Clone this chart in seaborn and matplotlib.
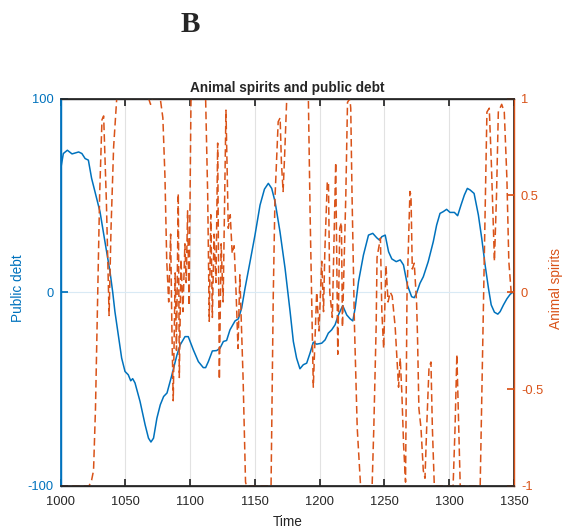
import numpy as np
import pandas as pd
import matplotlib
matplotlib.use("Agg")
import matplotlib.pyplot as plt
import seaborn as sns

# Public debt (left axis)
debt_t = [1000, 1002.2, 1005.3, 1008.9, 1014, 1016.5, 1019, 1021.5, 1024, 1026.6, 1030.5, 1034.3,
          1038.2, 1040.3, 1042, 1044.6, 1047.2, 1049.8, 1052.3, 1054.2, 1055.7, 1057.5, 1061.4,
          1065.3, 1067.9, 1069.8, 1071.8, 1074.4, 1077, 1079.6, 1082.2, 1086, 1089.9, 1092.5,
          1096.1, 1098.6, 1102.5, 1106.4, 1110.2, 1112, 1114.1, 1117.2, 1120.5, 1123.1, 1125.7,
          1128.2, 1130.8, 1134.7, 1137.3, 1139.8, 1142.4, 1146.3, 1150.1, 1154, 1157.4, 1160.4,
          1163, 1165.6, 1169.4, 1173.3, 1177.2, 1179.7, 1182.2, 1184.8, 1187.4, 1190, 1192.6,
          1195.1, 1197.7, 1201.6, 1204.2, 1206.7, 1209.3, 1211.9, 1214.5, 1217.8, 1220.9, 1223.5,
          1225.6, 1227.4, 1230, 1233.8, 1237.7, 1241, 1244.1, 1246.2, 1248, 1250.6, 1253.2,
          1255.7, 1259.1, 1262.2, 1264.7, 1267.8, 1271, 1273, 1274.8, 1277.4, 1280, 1283.8,
          1287.7, 1290.3, 1292.9, 1295.4, 1298, 1300.6, 1304, 1306.5, 1309.1, 1311.7, 1314,
          1316.1, 1319.2, 1322.5, 1325.1, 1327.7, 1330.3, 1332.4, 1334.9, 1337.5, 1339.3,
          1341.9, 1344.5, 1347.1, 1349.7]
debt_v = [63, 71.6, 73.3, 71.4, 72.4, 71.6, 69, 68.2, 58.8, 51.9, 41.5, 26.1,
          10.6, 0, -10, -22, -34, -40.9, -42.6, -45.7, -44.6, -46.8, -56.4,
          -68.4, -75.3, -77.3, -75.3, -65, -58.1, -53.8, -52, -42.6, -32.3, -27,
          -22.9, -22.9, -29.7, -35.8, -38.9, -38.9, -35.8, -30.3, -30.1, -28.9, -25.4,
          -24.9, -19.4, -14.8, -13.7, -8.2, 2, 15.8, 29.5, 45, 53.2, 56.2,
          53.6, 46.7, 31.2, 12.4, -10, -25.4, -34, -39.5, -37.4, -36.6, -31.4,
          -25.8, -26.8, -26.3, -24.6, -21.1, -19.4, -16.8, -11.7, -6.9, -11.7, -13.7,
          -14.8, -8.2, 5.5, 19.2, 29.5, 30.4, 28.1, 26.9, 28.7, 29.5, 20.9,
          17.2, 15.8, 16.7, 14.1, 3.5, -2.3, -2.8, -0.5, 4.6, 8, 15.8,
          26.1, 34.7, 40.7, 41.6, 42.8, 41.2, 41.2, 39.5, 45, 50.2, 53.6,
          52.8, 51, 39.9, 27.8, 14.1, 2, -6.5, -10.3, -11.3, -10,
          -6.5, -3.4, -1, 0.3]

# Animal spirits (right axis)
spirit_t = [1000, 1022, 1024, 1025.5, 1027, 1028.2, 1030.2, 1032, 1033.3, 1035.4, 1037.5, 1039,
            1041, 1043.4, 1068, 1069.5, 1071, 1077, 1079, 1080.6, 1082, 1083.5, 1085, 1086,
            1087, 1088.5, 1089.5, 1090.9, 1091.7, 1093, 1094.5, 1096, 1097, 1098.1, 1099.2,
            1100.7, 1101.5, 1112, 1113.6, 1114.8, 1116, 1117.2, 1118.5, 1120, 1121.3, 1122.6,
            1124, 1125.5, 1127.7, 1129.5, 1131, 1132.5, 1134, 1135.5, 1137, 1138.4, 1140.9,
            1142.8, 1143.6, 1162.5, 1164.2, 1165.5, 1168, 1169.5, 1170.5, 1171.8, 1173, 1174.5,
            1176, 1191.3, 1192.6, 1193.8, 1195.1, 1197.7, 1199.5, 1201.6, 1203, 1204, 1205.9,
            1206.8, 1207.8, 1209.8, 1212.4, 1214, 1215.5, 1216.8, 1217.6, 1220.2, 1221.5,
            1223.3, 1224, 1225, 1226.9, 1229, 1231.5, 1232.5, 1240.5, 1241.8, 1243.6, 1244.3,
            1246.9, 1248, 1249.4, 1251.2, 1252.8, 1254.5, 1256, 1258.3, 1260.9, 1262.2, 1263.5,
            1264.8, 1266.3, 1267.4, 1269.7, 1270.5, 1271.5, 1273, 1274.8, 1275.5, 1276.6,
            1278.2, 1280, 1281.3, 1282.6, 1284.4, 1285.9, 1287, 1288.5, 1303, 1304.5, 1305.9,
            1307, 1308.5, 1323.9, 1326.5, 1329.1, 1330.9, 1332.5, 1334.9, 1336.5, 1337.9,
            1340.5, 1342.5, 1344.5, 1346, 1347.8, 1349.6]
spirit_v = [-1, -1, -0.97, -0.92, -0.6, -0.19, 0.5, 0.89, 0.91, 0.47, -0.12, 0.33,
            0.75, 1.0, 1.0, 0.97, 1.0, 1.0, 0.9, 0.6, 0.16, -0.05, 0.3, -0.2,
            -0.56, 0.1, -0.3, 0.51, -0.44, 0.17, -0.1, 0.25, 0.05, 0.42, -0.07,
            0.99, 1.0, 1.0, 0.5, -0.15, 0.4, -0.13, 0.3, 0.05, 0.77, -0.45,
            0.25, -0.05, 0.94, 0.33, 0.4, 0.2, 0.24, 0.0, -0.29, 0.09, -0.44,
            -0.98, -1, -1, -0.02, 0.48, 0.88, 0.9, 0.67, 0.52, 0.71, 0.98,
            1.0, 1.0, 0.42, -0.01, -0.49, 0.0, -0.2, 0.16, -0.1, 0.21, 0.57,
            0.57, 0.0, -0.13, 0.67, -0.32, 0.33, 0.36, -0.18, 0.5, 0.98,
            1.0, 0.95, 0.5, -0.18, -0.7, -0.99, -1, -1, -0.7, -0.18, 0.18,
            0.28, -0.1, -0.29, 0.14, -0.05, 0.0, -0.02, -0.18, -0.49, -0.34, -0.53,
            -0.79, -0.98, -0.02, 0.52, 0.5, 0.12, 0.15, -0.05, -0.22, -0.6,
            -0.7, -0.92, -0.96, -0.7, -0.39, -0.36, -0.7, -1, -1, -0.7, -0.32,
            -0.6, -1, -1, -0.02, 0.93, 0.95, 0.67, 0.16, 0.5, 0.93,
            0.97, 0.93, 0.59, 0.16, 0.0, -0.01]

x_ticks = [1000, 1050, 1100, 1150, 1200, 1250, 1300, 1350]
left_ticks = [-100, 0, 100]
right_ticks = [-1, -0.5, 0, 0.5, 1]
right_labels = ["-1", "-0.5", "0", "0.5", "1"]

BLUE = "#0072BD"
ORANGE = "#D95319"

sns.set_theme(style="white")
plt.rcParams["font.family"] = ["Liberation Sans", "DejaVu Sans"]
plt.rcParams["axes.unicode_minus"] = False

fig = plt.figure(figsize=(5.64, 5.32), dpi=100)
ax_w = 514 - 60.5
ax_h = 486 - 98.5
ax = fig.add_axes([60.5 / 564, 1 - 486 / 532, ax_w / 564, ax_h / 532])

df_d = pd.DataFrame({"t": debt_t, "v": debt_v})
df_s = pd.DataFrame({"t": spirit_t, "v": spirit_v})

sns.lineplot(data=df_d, x="t", y="v", ax=ax, color=BLUE, lw=1.1, sort=False)
ax.set_xlim(1000, 1350)
ax.set_ylim(-100, 100)
ax.set_xticks(x_ticks)
ax.set_xticklabels([str(t) for t in x_ticks])
ax.set_yticks(left_ticks)
ax.set_yticklabels([str(t) for t in left_ticks])
ax.xaxis.grid(True, color="#e2e2e2", lw=0.8)
ax.yaxis.grid(True, color="#d9eaf5", lw=0.8)
ax.set_axisbelow(True)
ax.tick_params(axis="x", direction="in", length=5, top=True, bottom=True, colors="#262626",
               labelsize=9.3, pad=7)
ax.tick_params(axis="y", direction="in", length=5, colors=BLUE, labelsize=9.3, pad=5)
ax.set_xlabel("Time", fontsize=9.8, color="#262626", va="center")
ax.xaxis.set_label_coords(0.5, (486 - 522) / ax_h)
ax.set_ylabel("Public debt", fontsize=9.8, color=BLUE, va="center")
ax.yaxis.set_label_coords((18 - 60.5) / ax_w, 0.51)
for s in ["top", "bottom"]:
    ax.spines[s].set_color("#262626")
    ax.spines[s].set_linewidth(1.0)
ax.spines["left"].set_color(BLUE)
ax.spines["left"].set_linewidth(1.0)

ax2 = ax.twinx()
sns.lineplot(data=df_s, x="t", y="v", ax=ax2, color=ORANGE, lw=1.1, sort=False,
             linestyle=(0, (5, 2.6)))
ax2.set_ylim(-1, 1)
ax2.set_xlim(1000, 1350)
ax2.set_yticks(right_ticks)
ax2.set_yticklabels(right_labels)
ax2.tick_params(axis="y", direction="in", length=5, colors=ORANGE, labelsize=9.3, pad=5)
ax2.set_ylabel("Animal spirits", fontsize=9.8, color=ORANGE, va="center")
ax2.yaxis.set_label_coords((556 - 60.5) / ax_w, 0.51)
ax2.spines["right"].set_color(ORANGE)
ax2.spines["right"].set_linewidth(1.0)
ax2.spines["left"].set_color(BLUE)
for s in ["top", "bottom"]:
    ax2.spines[s].set_color("#262626")
ax2.grid(False)

ax.set_title("Animal spirits and public debt", fontsize=9.8, fontweight="bold", pad=5)
fig.text(190 / 564, 1 - 25 / 532, "B", fontsize=21, fontweight="bold",
         family=["Liberation Serif", "DejaVu Serif"], ha="center", va="center")

fig.savefig("out.png", dpi=100)
